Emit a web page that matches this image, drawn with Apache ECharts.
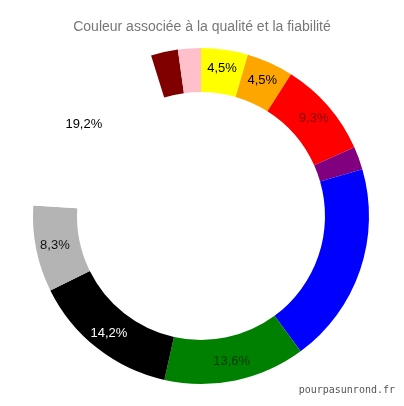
<!DOCTYPE html>
<html>
<head>
<meta charset="utf-8">
<script src="https://cdn.jsdelivr.net/npm/echarts@6/dist/echarts.min.js"></script>
<style>
  html, body { margin: 0; padding: 0; background: #fff; }
  #chart-container { width: 404px; height: 406px; }
</style>
</head>
<body>
<div id="chart-container"></div>
<script>
// couleurs, dans l'ordre du cercle (sens horaire depuis midi)
const categories = ['Jaune', 'Orange', 'Rouge', 'Violet', 'Bleu', 'Vert', 'Noir', 'Gris', 'Blanc', 'Bordeaux', 'Rose'];
const values = [4.5, 4.5, 9.3, 2.2, 19.4, 13.6, 14.2, 8.3, 19.2, 2.6, 2.2];
const showLabel = [true, true, true, false, false, true, true, true, true, false, false];

const sliceColors = ['#ffff00', '#ffa500', '#ff0000', '#800080', '#0000ff', '#008000', '#000000', '#b4b4b4', '#ffffff', '#800000', '#ffc0cb'];
const labelColors = ['#000', '#000', '#800000', '#000', '#000', '#003a00', '#fff', '#111', '#000', '#000', '#000'];

var dom = document.getElementById('chart-container');
var myChart = echarts.init(dom, null, { renderer: 'canvas' });

var data = categories.map(function (name, i) {
    return {
        name: name,
        value: values[i],
        itemStyle: { color: sliceColors[i] },
        label: { show: showLabel[i], color: labelColors[i] }
    };
});

var option = {
    animation: false,
    title: {
        text: 'Couleur associée à la qualité et la fiabilité',
        left: 'center',
        top: 15,
        textStyle: {
            color: '#777',
            fontSize: 14,
            fontWeight: 'normal',
            fontFamily: 'Liberation Sans'
        }
    },
    graphic: [
        {
            type: 'text',
            right: 9,
            top: 385,
            style: {
                text: 'pourpasunrond.fr',
                fill: '#555',
                font: '10px "DejaVu Sans Mono"'
            }
        }
    ],
    series: [
        {
            type: 'pie',
            center: [201, 216],
            radius: [124, 168],
            startAngle: 90,
            clockwise: true,
            avoidLabelOverlap: false,
            label: {
                position: 'inside',
                fontSize: 13,
                fontFamily: 'Liberation Sans',
                textBorderWidth: 0,
                formatter: function (p) {
                    return p.value.toFixed(1).replace('.', ',') + '%';
                }
            },
            labelLine: { show: false },
            itemStyle: { borderWidth: 0 },
            emphasis: { disabled: true },
            data: data
        }
    ]
};

myChart.setOption(option);
window.addEventListener('resize', myChart.resize);
</script>
</body>
</html>
